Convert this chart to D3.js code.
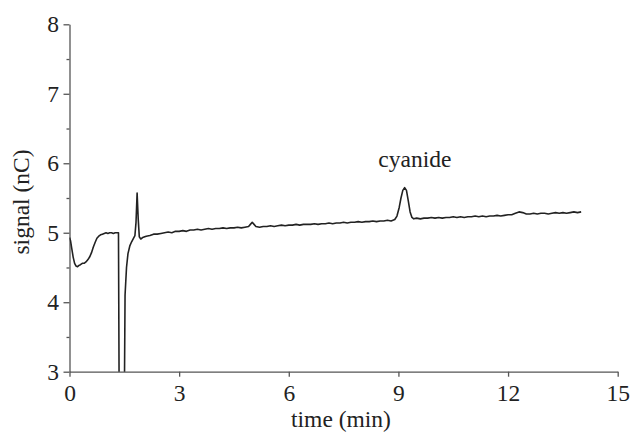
<!DOCTYPE html>
<html>
    <head>
        <meta charset="utf-8">
        <style>
            body { margin: 0; background: #fff; }
            svg { font-family: 'Liberation Serif', 'Times New Roman', serif; }
            .axis path, .axis line { stroke: #555; stroke-width: 1.3px; }
            .axis text { fill: #222; font-size: 23.5px; font-family: 'Liberation Serif', serif; }
        </style>
    </head>
    <body>
        <svg width="630" height="432"></svg>

    <script src="https://d3js.org/d3.v7.min.js"></script>
    <script>
        // trace (time in min, signal in nC)
        let times = [
            0.00, 0.03, 0.06, 0.10, 0.14, 0.18, 0.22, 0.26, 0.30, 0.35,
            0.40, 0.45, 0.50, 0.55, 0.60, 0.65, 0.70, 0.75, 0.80, 0.85,
            0.90, 0.95, 1.00, 1.05, 1.10, 1.15, 1.20, 1.25, 1.30, 1.34,
            1.36, 1.50, 1.52, 1.56, 1.60, 1.65, 1.70, 1.75, 1.79, 1.82,
            1.85, 1.88, 1.91, 1.95, 2.00, 2.10, 2.20, 2.30, 2.40, 2.50,
            2.60, 2.70, 2.80, 2.90, 3.00, 3.10, 3.20, 3.30, 3.40, 3.50,
            3.60, 3.70, 3.80, 3.90, 4.00, 4.10, 4.20, 4.30, 4.40, 4.50,
            4.60, 4.70, 4.80, 4.90, 4.95, 5.00, 5.05, 5.10, 5.20, 5.30,
            5.40, 5.50, 5.60, 5.70, 5.80, 5.90, 6.00, 6.10, 6.20, 6.30,
            6.40, 6.50, 6.60, 6.70, 6.80, 6.90, 7.00, 7.10, 7.20, 7.30,
            7.40, 7.50, 7.60, 7.70, 7.80, 7.90, 8.00, 8.10, 8.20, 8.30,
            8.40, 8.50, 8.60, 8.70, 8.80, 8.90, 8.96, 9.02, 9.07, 9.12,
            9.17, 9.22, 9.27, 9.32, 9.37, 9.42, 9.50, 9.60, 9.70, 9.80,
            9.90, 10.00, 10.10, 10.20, 10.30, 10.40, 10.50, 10.60, 10.70, 10.80,
            10.90, 11.00, 11.10, 11.20, 11.30, 11.40, 11.50, 11.60, 11.70, 11.80,
            11.90, 12.00, 12.10, 12.20, 12.30, 12.40, 12.50, 12.60, 12.70, 12.80,
            12.90, 13.00, 13.10, 13.20, 13.30, 13.40, 13.50, 13.60, 13.70, 13.80,
            13.90, 14.00
        ]
        let signal = [
            4.93, 4.88, 4.78, 4.65, 4.56, 4.52, 4.51, 4.53, 4.54, 4.56,
            4.56, 4.58, 4.61, 4.65, 4.71, 4.79, 4.86, 4.92, 4.95, 4.97,
            4.98, 4.99, 5.00, 4.99, 5.00, 5.00, 4.99, 5.00, 5.00, 5.00,
            2.50, 2.50, 4.10, 4.50, 4.70, 4.81, 4.87, 4.92, 4.96, 5.15,
            5.57, 5.20, 4.94, 4.91, 4.93, 4.95, 4.96, 4.98, 4.98, 4.99,
            5.00, 5.01, 5.00, 5.02, 5.02, 5.03, 5.02, 5.04, 5.04, 5.05,
            5.04, 5.05, 5.06, 5.05, 5.06, 5.06, 5.07, 5.06, 5.07, 5.07,
            5.08, 5.07, 5.08, 5.09, 5.12, 5.15, 5.12, 5.09, 5.08, 5.09,
            5.09, 5.10, 5.09, 5.10, 5.11, 5.10, 5.11, 5.11, 5.12, 5.11,
            5.12, 5.12, 5.12, 5.13, 5.12, 5.13, 5.13, 5.14, 5.13, 5.14,
            5.14, 5.15, 5.14, 5.15, 5.15, 5.16, 5.15, 5.16, 5.16, 5.17,
            5.16, 5.17, 5.17, 5.18, 5.17, 5.19, 5.24, 5.36, 5.50, 5.61,
            5.65, 5.61, 5.46, 5.30, 5.22, 5.20, 5.21, 5.20, 5.21, 5.21,
            5.22, 5.21, 5.22, 5.21, 5.22, 5.22, 5.23, 5.22, 5.23, 5.22,
            5.23, 5.23, 5.24, 5.23, 5.24, 5.23, 5.24, 5.24, 5.25, 5.24,
            5.25, 5.26, 5.26, 5.28, 5.30, 5.29, 5.27, 5.27, 5.28, 5.27,
            5.28, 5.28, 5.27, 5.28, 5.29, 5.28, 5.29, 5.28, 5.29, 5.30,
            5.29, 5.30
        ]
        let xTicks = [0, 3, 6, 9, 12, 15]
        let yTicks = [3, 4, 5, 6, 7, 8]
        let yMinor = [3.5, 4.5, 5.5, 6.5, 7.5]

        let svg = d3.select("svg")
        let margin = { top: 24.3, right: 12.3, bottom: 60.3, left: 69.5 }
        let width = 630, height = 432

        let x = d3.scaleLinear()
            .domain([0, 15])
            .range([margin.left, width - margin.right])

        let y = d3.scaleLinear()
            .domain([3, 8])
            .range([height - margin.bottom, margin.top])

        svg.append("defs").append("clipPath").attr("id", "plot")
            .append("rect")
            .attr("x", x(0)).attr("y", y(8))
            .attr("width", x(15) - x(0)).attr("height", y(3) - y(8))

        // minor ticks first so the main axis sits on top
        svg.append("g")
            .attr("class", "axis")
            .attr("transform", `translate(${x(0)},0)`)
            .call(d3.axisLeft(y).tickValues(yMinor).tickSize(3).tickFormat(""))
            .select(".domain").remove()

        svg.append("g")
            .attr("class", "axis")
            .attr("transform", `translate(${x(0)},0)`)
            .call(d3.axisLeft(y).tickValues(yTicks).tickSize(6).tickSizeOuter(0)
                .tickPadding(4.5).tickFormat(d3.format("d")))

        svg.append("g")
            .attr("class", "axis")
            .attr("transform", `translate(0,${y(3)})`)
            .call(d3.axisBottom(x).tickValues(xTicks).tickSize(5).tickSizeOuter(0).tickPadding(8))

        let data = times.map((t, i) => ({ t: t, v: signal[i] }))

        svg.append("path")
            .datum(data)
            .attr("clip-path", "url(#plot)")
            .attr("fill", "none")
            .attr("stroke", "#222")
            .attr("stroke-width", 1.6)
            .attr("stroke-linejoin", "round")
            .attr("d", d3.line().x(d => x(d.t)).y(d => y(d.v)))

        svg.append("text")
            .attr("x", x(9.45))
            .attr("y", y(5.95))
            .attr("text-anchor", "middle")
            .style("font-size", "23.5px")
            .style("fill", "#222")
            .text("cyanide")

        svg.append("text")
            .attr("x", 341)
            .attr("y", 427)
            .attr("text-anchor", "middle")
            .style("font-size", "23.5px")
            .style("fill", "#222")
            .text("time (min)")

        svg.append("text")
            .attr("transform", "translate(29,202) rotate(-90)")
            .attr("text-anchor", "middle")
            .style("font-size", "23.5px")
            .style("fill", "#222")
            .text("signal (nC)")
    </script>
    </body>
</html>
